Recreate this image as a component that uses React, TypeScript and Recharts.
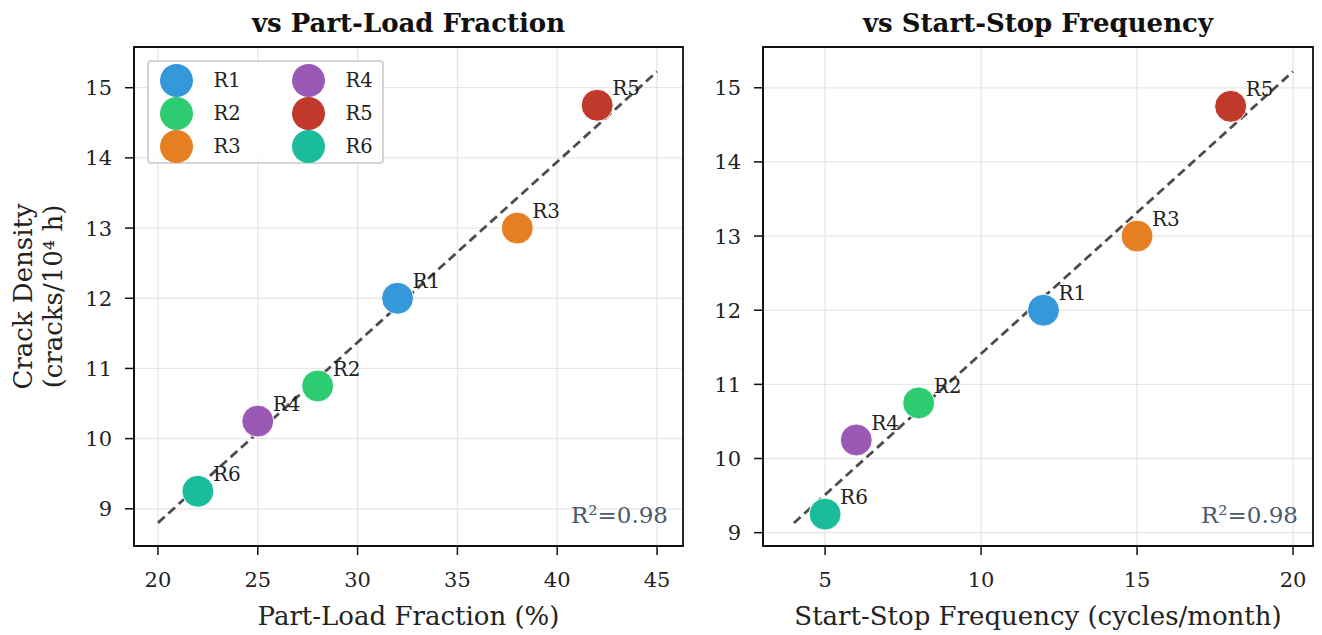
import React from 'react';
import {
  ScatterChart, Scatter, XAxis, YAxis, CartesianGrid, ReferenceLine, ReferenceArea,
} from 'recharts';

const regions = ['R1', 'R2', 'R3', 'R4', 'R5', 'R6'];
const regionColors = ['#3498db', '#2ecc71', '#e67e22', '#9b59b6', '#c0392b', '#1abc9c'];
const partLoad = [32, 28, 38, 25, 42, 22];
const startStop = [12, 8, 15, 6, 18, 5];
const crackDensity = [12.0, 10.75, 13.0, 10.25, 14.75, 9.25];

const partLoadTicks = [20, 25, 30, 35, 40, 45];
const startStopTicks = [5, 10, 15, 20];
const crackTicks = [9, 10, 11, 12, 13, 14, 15];

const fitPartLoad = [{ x: 20, y: 8.8 }, { x: 45, y: 15.23 }];
const fitStartStop = [{ x: 4, y: 9.13 }, { x: 20, y: 15.22 }];

const FONT = '"DejaVu Serif", serif';

const Marker = (props: any) => {
  const { cx, cy, fill, payload } = props;
  return (
    <g>
      <circle cx={cx} cy={cy} r={16} fill={fill} stroke="#fff" strokeWidth={1} />
      <text x={cx + 15} y={cy - 10} fontSize={20} fontFamily={FONT} fill="#222">
        {payload.name}
      </text>
    </g>
  );
};

const tickStyle = { fill: '#222', fontSize: 21, fontFamily: FONT };

type PanelProps = {
  xs: number[];
  xDomain: [number, number];
  yDomain: [number, number];
  xTicks: number[];
  fit: { x: number; y: number }[];
  xLabel: string;
  width: number;
  margin: { top: number; right: number; bottom: number; left: number };
  yAxisWidth: number;
  showYLabel: boolean;
};

const Panel = (p: PanelProps) => (
  <ScatterChart width={p.width} height={635} margin={p.margin}>
    <CartesianGrid stroke="#e6e6e6" strokeWidth={1.3} />
    <XAxis
      type="number"
      dataKey="x"
      domain={p.xDomain}
      ticks={p.xTicks}
      allowDataOverflow
      tick={tickStyle}
      tickSize={9}
      tickMargin={17}
      tickLine={{ stroke: '#111', strokeWidth: 1.5 }}
      axisLine={{ stroke: '#111', strokeWidth: 1.8 }}
      height={80}
      label={{ value: p.xLabel, position: 'insideBottom', offset: 1, fontSize: 26, fontFamily: FONT, fill: '#222' }}
    />
    <YAxis
      type="number"
      dataKey="y"
      domain={p.yDomain}
      ticks={crackTicks}
      allowDataOverflow
      width={p.yAxisWidth}
      tick={tickStyle}
      tickSize={9}
      tickMargin={13}
      tickLine={{ stroke: '#111', strokeWidth: 1.5 }}
      axisLine={{ stroke: '#111', strokeWidth: 1.8 }}
      label={
        p.showYLabel
          ? {
              content: ({ viewBox }: any) => {
                const cy = viewBox.y + viewBox.height / 2;
                return (
                  <g fontFamily={FONT} fontSize={26} fill="#222">
                    <text x={23} y={cy} transform={`rotate(-90 23 ${cy})`} textAnchor="middle" dominantBaseline="central">
                      Crack Density
                    </text>
                    <text x={53} y={cy} transform={`rotate(-90 53 ${cy})`} textAnchor="middle" dominantBaseline="central">
                      (cracks/10⁴ h)
                    </text>
                  </g>
                );
              },
            }
          : undefined
      }
    />
    <ReferenceArea
      x1={p.xDomain[0]}
      x2={p.xDomain[1]}
      y1={p.yDomain[0]}
      y2={p.yDomain[1]}
      fill="none"
      fillOpacity={0}
      stroke="#111"
      strokeWidth={1.8}
      label={{
        content: ({ viewBox }: any) => (
          <text
            x={viewBox.x + viewBox.width - 15}
            y={viewBox.y + viewBox.height - 23}
            textAnchor="end"
            fontSize={23}
            fontFamily={FONT}
            fill="#4a5a6e"
          >
            R²=0.98
          </text>
        ),
      }}
    />
    <ReferenceLine segment={p.fit} stroke="#4d4d4d" strokeWidth={2.8} strokeDasharray="9 5" />
    {regions.map((name, i) => (
      <Scatter
        key={name}
        name={name}
        data={[{ x: p.xs[i], y: crackDensity[i], name }]}
        fill={regionColors[i]}
        shape={Marker}
        isAnimationActive={false}
      />
    ))}
  </ScatterChart>
);

const Legend2Col = () => (
  <div
    style={{
      position: 'absolute', left: 147, top: 60, width: 233, height: 100,
      border: '2px solid #d4d4d4', borderRadius: 4, background: 'rgba(255,255,255,0.85)',
      fontFamily: FONT, fontSize: 19.5, color: '#222',
    }}
  >
    {regions.map((name, i) => {
      const col = i < 3 ? 0 : 1;
      const row = i % 3;
      return (
        <div
          key={name}
          style={{ position: 'absolute', left: 10.5 + col * 132, top: 1.5 + row * 33, display: 'flex', alignItems: 'center', height: 33 }}
        >
          <span style={{ width: 33, height: 33, borderRadius: '50%', background: regionColors[i], display: 'inline-block' }} />
          <span style={{ marginLeft: 21 }}>{name}</span>
        </div>
      );
    })}
  </div>
);

const titleStyle: React.CSSProperties = {
  position: 'absolute', top: 8, fontFamily: FONT, fontWeight: 'bold', fontSize: 26,
  color: '#111', textAlign: 'center', whiteSpace: 'nowrap',
};

export default function App() {
  return (
    <div style={{ position: 'absolute', left: 0, top: 0, width: 1322, height: 635, background: '#fff' }}>
      <div style={{ position: 'absolute', left: 0, top: 0 }}>
        <Panel
          xs={partLoad}
          xDomain={[18.8, 46.3]}
          yDomain={[8.47, 15.58]}
          xTicks={partLoadTicks}
          fit={fitPartLoad}
          xLabel="Part-Load Fraction (%)"
          width={700}
          margin={{ top: 47, right: 17, bottom: 9, left: 14 }}
          yAxisWidth={120}
          showYLabel
        />
      </div>
      <div style={{ position: 'absolute', left: 700, top: 0 }}>
        <Panel
          xs={startStop}
          xDomain={[3.01, 20.64]}
          yDomain={[8.82, 15.55]}
          xTicks={startStopTicks}
          fit={fitStartStop}
          xLabel="Start-Stop Frequency (cycles/month)"
          width={622}
          margin={{ top: 47, right: 9, bottom: 9, left: 13 }}
          yAxisWidth={50}
          showYLabel={false}
        />
      </div>
      <div style={{ ...titleStyle, left: 134, width: 549 }}>vs Part-Load Fraction</div>
      <div style={{ ...titleStyle, left: 763, width: 550 }}>vs Start-Stop Frequency</div>
      <Legend2Col />
    </div>
  );
}
